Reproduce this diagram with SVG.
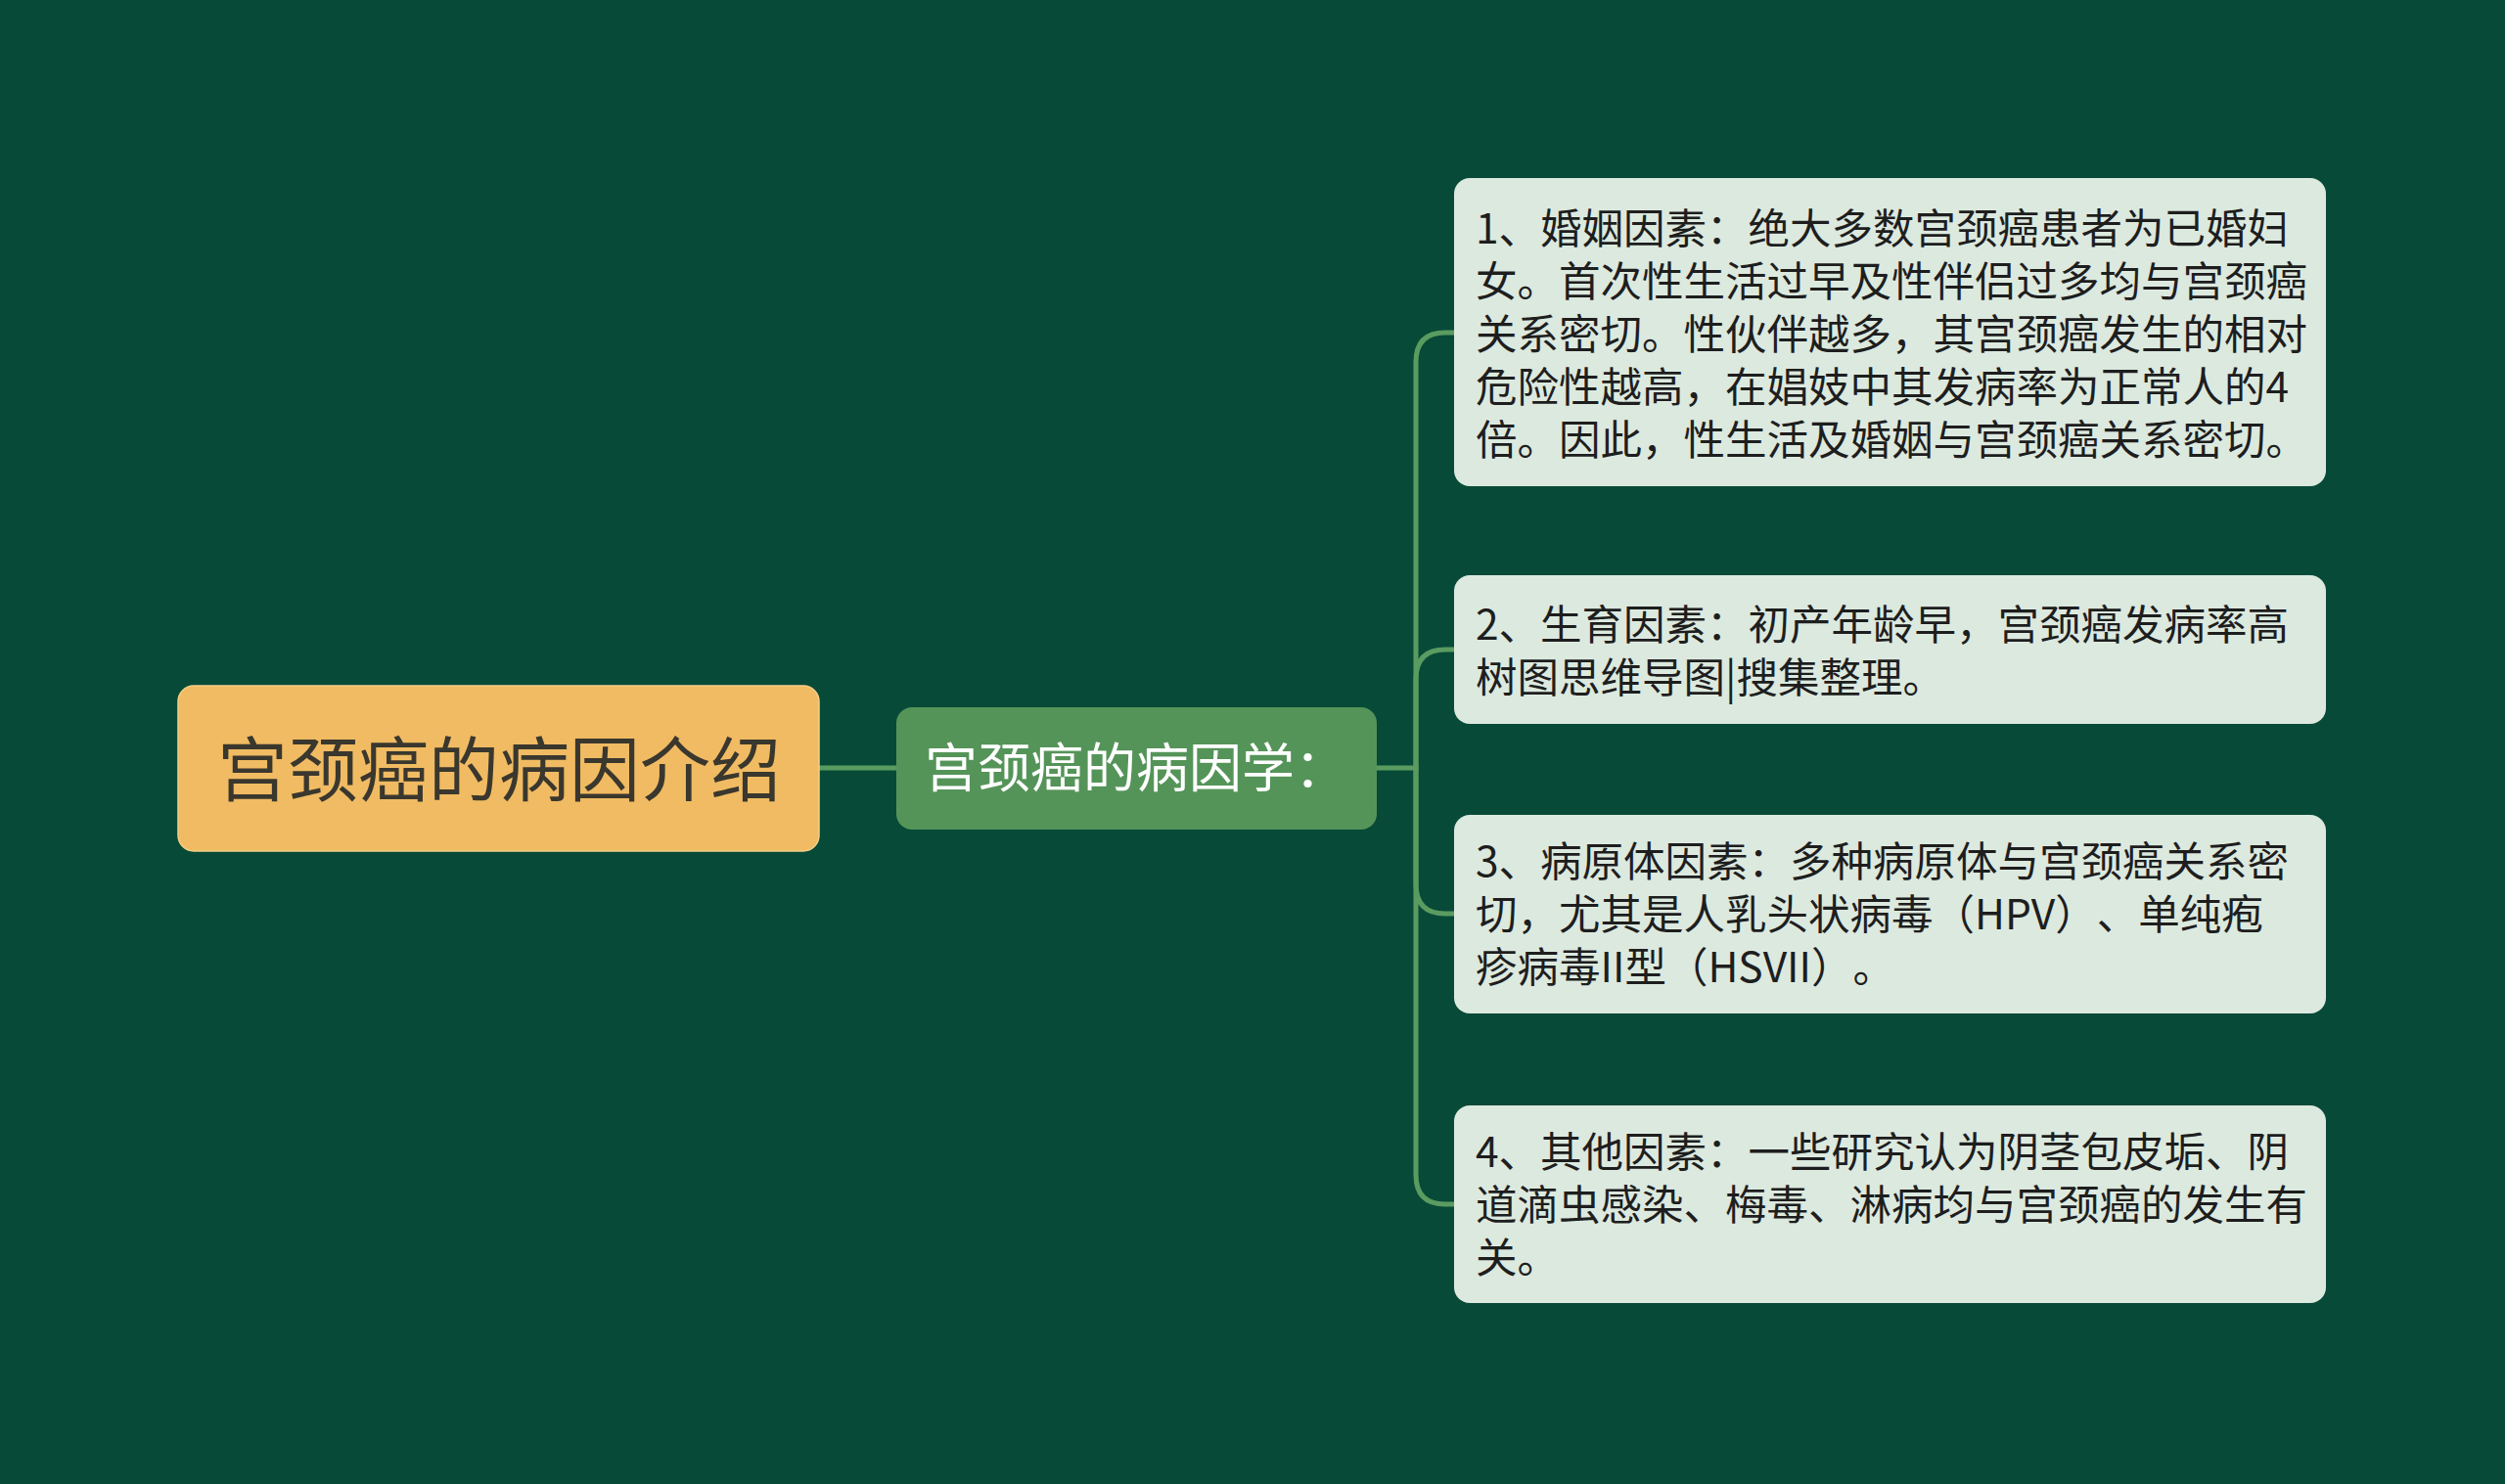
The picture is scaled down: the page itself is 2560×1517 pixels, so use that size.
<svg xmlns="http://www.w3.org/2000/svg" width="2560" height="1517" viewBox="0 0 2560 1517">
<style>
.bg{fill:#084a38}
.conn{fill:none;stroke:#5a9b60;stroke-width:5;stroke-linecap:round}
.root{fill:#f0bb62;stroke:#f5cf86;stroke-width:1.5}
.mid{fill:#559459}
.leaf{fill:#dce9df}
text{font-family:"Noto Sans CJK SC","Noto Sans",sans-serif;text-spacing-trim:space-all;font-feature-settings:"chws" 0,"halt" 0}
.t-root{font-size:72px;fill:#3a372e}
.t-mid{font-size:54px;fill:#ffffff}
.t-leaf{font-size:42.5px;fill:#1e1e1e}
</style>
<rect class="bg" x="0" y="0" width="2560" height="1517"/>
<g id="connectors">
<path class="conn" d="M837 785 H916"/>
<path class="conn" d="M1407 785 H1447"/>
<path class="conn" d="M1447 785 V370 Q1447 340 1477 340 H1486"/>
<path class="conn" d="M1447 785 V694 Q1447 664 1477 664 H1486"/>
<path class="conn" d="M1447 785 V904 Q1447 934 1477 934 H1486"/>
<path class="conn" d="M1447 785 V1201 Q1447 1231 1477 1231 H1486"/>
</g>
<g id="root">
<rect class="root" x="182" y="701" width="655" height="169" rx="16"/>
<text class="t-root" x="510" y="813" text-anchor="middle">宫颈癌的病因介绍</text>
</g>
<g id="middle">
<rect class="mid" x="916" y="723" width="491" height="125" rx="16"/>
<text class="t-mid" x="945" y="805">宫颈癌的病因学：</text>
</g>
<g id="node1">
<rect class="leaf" x="1486" y="182" width="891" height="315" rx="16"/>
<text class="t-leaf"><tspan x="1508" y="249">1、婚姻因素：绝大多数宫颈癌患者为已婚妇</tspan><tspan x="1508" y="303">女。首次性生活过早及性伴侣过多均与宫颈癌</tspan><tspan x="1508" y="357">关系密切。性伙伴越多，其宫颈癌发生的相对</tspan><tspan x="1508" y="411">危险性越高，在娼妓中其发病率为正常人的4</tspan><tspan x="1508" y="465">倍。因此，性生活及婚姻与宫颈癌关系密切。</tspan></text>
</g>
<g id="node2">
<rect class="leaf" x="1486" y="588" width="891" height="152" rx="16"/>
<text class="t-leaf"><tspan x="1508" y="654">2、生育因素：初产年龄早，宫颈癌发病率高</tspan><tspan x="1508" y="708">树图思维导图|搜集整理。</tspan></text>
</g>
<g id="node3">
<rect class="leaf" x="1486" y="833" width="891" height="203" rx="16"/>
<text class="t-leaf"><tspan x="1508" y="896">3、病原体因素：多种病原体与宫颈癌关系密</tspan><tspan x="1508" y="950">切，尤其是人乳头状病毒（HPV）、单纯疱</tspan><tspan x="1508" y="1004">疹病毒II型（HSVII）。</tspan></text>
</g>
<g id="node4">
<rect class="leaf" x="1486" y="1130" width="891" height="202" rx="16"/>
<text class="t-leaf"><tspan x="1508" y="1193">4、其他因素：一些研究认为阴茎包皮垢、阴</tspan><tspan x="1508" y="1247">道滴虫感染、梅毒、淋病均与宫颈癌的发生有</tspan><tspan x="1508" y="1301">关。</tspan></text>
</g>
</svg>
